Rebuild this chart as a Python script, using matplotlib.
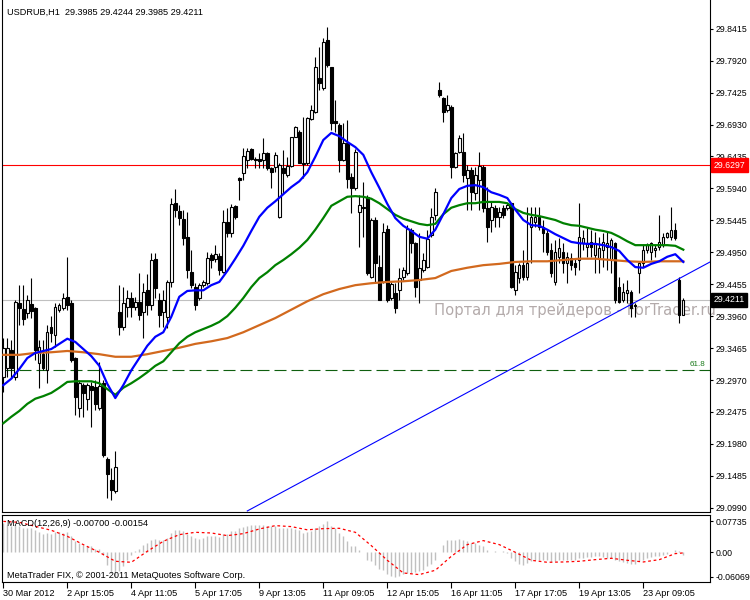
import matplotlib.pyplot as plt
import numpy as np

plt.rcParams['font.family'] = ['Liberation Sans', 'DejaVu Sans']
plt.rcParams['font.size'] = 6.6

symbol = 'USDRUB,H1'

# hourly candles, oldest first
opens = [
    29.302, 29.316, 29.343, 29.302, 29.416, 29.407, 29.401, 29.415, 29.409, 29.323,
    29.337, 29.312, 29.379, 29.367, 29.406, 29.409, 29.426, 29.416, 29.331, 29.254,
    29.289, 29.268, 29.288, 29.286, 29.254, 29.292, 29.175, 29.142, 29.125, 29.402,
    29.379, 29.410, 29.424, 29.410, 29.418, 29.402, 29.436, 29.413, 29.485, 29.421,
    29.402, 29.395, 29.449, 29.571, 29.559, 29.547, 29.519, 29.464, 29.441, 29.424,
    29.444, 29.447, 29.491, 29.485, 29.489, 29.464, 29.542, 29.525, 29.567, 29.610,
    29.618, 29.638, 29.655, 29.640, 29.640, 29.638, 29.649, 29.626, 29.627, 29.550,
    29.626, 29.615, 29.629, 29.674, 29.681, 29.633, 29.633, 29.702, 29.712, 29.765,
    29.750, 29.824, 29.782, 29.698, 29.692, 29.638, 29.664, 29.612, 29.595, 29.557,
    29.565, 29.581, 29.457, 29.545, 29.472, 29.449, 29.531, 29.424, 29.432, 29.436,
    29.457, 29.463, 29.530, 29.509, 29.452, 29.468, 29.472, 29.522, 29.553, 29.746,
    29.734, 29.716, 29.720, 29.627, 29.650, 29.650, 29.610, 29.622, 29.587, 29.607,
    29.627, 29.564, 29.545, 29.564, 29.550, 29.564, 29.564, 29.571, 29.436, 29.455,
    29.475, 29.457, 29.534, 29.542, 29.550, 29.534, 29.525, 29.499, 29.449, 29.488,
    29.495, 29.478, 29.486, 29.478, 29.483, 29.509, 29.503, 29.511, 29.491, 29.486,
    29.499, 29.503, 29.483, 29.509, 29.441, 29.421, 29.432, 29.433, 29.413, 29.463,
    29.478, 29.499, 29.495, 29.499, 29.503, 29.506, 29.519, 29.519, 29.530, 29.452,
    29.3985]
highs = [
    29.362, 29.362, 29.359, 29.421, 29.444, 29.444, 29.429, 29.455, 29.410, 29.359,
    29.359, 29.382, 29.396, 29.416, 29.416, 29.432, 29.488, 29.421, 29.333, 29.297,
    29.292, 29.292, 29.294, 29.297, 29.325, 29.297, 29.178, 29.161, 29.187, 29.444,
    29.441, 29.436, 29.433, 29.426, 29.463, 29.447, 29.461, 29.494, 29.494, 29.432,
    29.436, 29.452, 29.579, 29.593, 29.568, 29.561, 29.557, 29.499, 29.447, 29.447,
    29.452, 29.495, 29.494, 29.506, 29.494, 29.561, 29.564, 29.570, 29.568, 29.612,
    29.657, 29.657, 29.657, 29.643, 29.649, 29.672, 29.650, 29.627, 29.650, 29.633,
    29.653, 29.643, 29.674, 29.691, 29.684, 29.705, 29.705, 29.723, 29.798, 29.813,
    29.827, 29.844, 29.782, 29.731, 29.695, 29.695, 29.700, 29.618, 29.655, 29.584,
    29.604, 29.584, 29.548, 29.550, 29.491, 29.540, 29.537, 29.449, 29.447, 29.471,
    29.472, 29.537, 29.533, 29.511, 29.525, 29.494, 29.530, 29.564, 29.595, 29.759,
    29.736, 29.739, 29.723, 29.650, 29.677, 29.680, 29.630, 29.627, 29.627, 29.650,
    29.630, 29.596, 29.573, 29.568, 29.565, 29.568, 29.571, 29.571, 29.475, 29.478,
    29.499, 29.565, 29.565, 29.565, 29.565, 29.545, 29.530, 29.509, 29.514, 29.517,
    29.509, 29.495, 29.494, 29.486, 29.571, 29.530, 29.533, 29.530, 29.526, 29.519,
    29.525, 29.526, 29.517, 29.511, 29.457, 29.447, 29.452, 29.436, 29.416, 29.480,
    29.506, 29.509, 29.511, 29.506, 29.553, 29.525, 29.526, 29.565, 29.540, 29.457,
    29.4244]
lows = [
    29.278, 29.302, 29.300, 29.297, 29.382, 29.382, 29.393, 29.393, 29.328, 29.285,
    29.312, 29.292, 29.356, 29.348, 29.402, 29.406, 29.406, 29.325, 29.243, 29.240,
    29.240, 29.251, 29.224, 29.251, 29.251, 29.178, 29.114, 29.111, 29.122, 29.367,
    29.375, 29.395, 29.395, 29.406, 29.390, 29.362, 29.398, 29.406, 29.424, 29.379,
    29.379, 29.378, 29.441, 29.550, 29.537, 29.506, 29.455, 29.440, 29.406, 29.421,
    29.441, 29.444, 29.471, 29.480, 29.460, 29.463, 29.519, 29.519, 29.547, 29.576,
    29.607, 29.626, 29.638, 29.626, 29.626, 29.626, 29.622, 29.595, 29.619, 29.548,
    29.587, 29.612, 29.627, 29.674, 29.633, 29.610, 29.630, 29.700, 29.711, 29.746,
    29.746, 29.782, 29.684, 29.681, 29.619, 29.636, 29.595, 29.556, 29.591, 29.503,
    29.519, 29.460, 29.455, 29.447, 29.421, 29.447, 29.418, 29.421, 29.401, 29.421,
    29.452, 29.460, 29.494, 29.426, 29.416, 29.464, 29.471, 29.519, 29.545, 29.736,
    29.697, 29.712, 29.610, 29.626, 29.649, 29.604, 29.561, 29.561, 29.576, 29.561,
    29.557, 29.511, 29.526, 29.534, 29.534, 29.548, 29.561, 29.440, 29.429, 29.447,
    29.452, 29.452, 29.478, 29.534, 29.530, 29.495, 29.491, 29.457, 29.444, 29.478,
    29.463, 29.447, 29.468, 29.460, 29.468, 29.499, 29.488, 29.488, 29.463, 29.463,
    29.472, 29.468, 29.463, 29.416, 29.416, 29.418, 29.416, 29.395, 29.395, 29.432,
    29.472, 29.494, 29.483, 29.488, 29.499, 29.503, 29.517, 29.514, 29.514, 29.385,
    29.3985]
closes = [
    29.347, 29.347, 29.316, 29.418, 29.409, 29.392, 29.421, 29.404, 29.343, 29.348,
    29.316, 29.371, 29.370, 29.410, 29.413, 29.424, 29.413, 29.328, 29.271, 29.292,
    29.277, 29.289, 29.282, 29.260, 29.288, 29.181, 29.151, 29.127, 29.162, 29.379,
    29.416, 29.424, 29.410, 29.418, 29.398, 29.433, 29.413, 29.483, 29.440, 29.398,
    29.421, 29.449, 29.570, 29.561, 29.548, 29.517, 29.468, 29.444, 29.413, 29.444,
    29.449, 29.486, 29.483, 29.492, 29.468, 29.542, 29.525, 29.565, 29.550, 29.607,
    29.644, 29.652, 29.640, 29.638, 29.636, 29.649, 29.626, 29.619, 29.646, 29.630,
    29.618, 29.629, 29.674, 29.689, 29.633, 29.632, 29.703, 29.716, 29.782, 29.757,
    29.821, 29.785, 29.695, 29.695, 29.638, 29.664, 29.609, 29.595, 29.650, 29.568,
    29.564, 29.463, 29.545, 29.478, 29.421, 29.526, 29.421, 29.446, 29.409, 29.455,
    29.468, 29.531, 29.509, 29.441, 29.471, 29.483, 29.516, 29.550, 29.588, 29.739,
    29.712, 29.723, 29.627, 29.649, 29.672, 29.615, 29.622, 29.588, 29.615, 29.629,
    29.564, 29.534, 29.565, 29.550, 29.557, 29.553, 29.568, 29.441, 29.464, 29.475,
    29.457, 29.478, 29.550, 29.550, 29.534, 29.525, 29.495, 29.463, 29.495, 29.502,
    29.478, 29.488, 29.475, 29.472, 29.519, 29.517, 29.509, 29.503, 29.509, 29.502,
    29.511, 29.509, 29.514, 29.421, 29.418, 29.433, 29.436, 29.409, 29.412, 29.478,
    29.499, 29.506, 29.509, 29.502, 29.511, 29.519, 29.525, 29.530, 29.517, 29.398,
    29.4211]

# moving averages: fast and middle read every 2nd bar, slow every 4th bar
fine_bars = list(range(0, 171, 2))
ma_fast = [
    29.289, 29.299, 29.314, 29.331, 29.339, 29.342, 29.345, 29.353, 29.361, 29.356,
    29.345, 29.334, 29.319, 29.291, 29.269, 29.289, 29.312, 29.331, 29.350, 29.364,
    29.371, 29.395, 29.426, 29.435, 29.436, 29.436, 29.444, 29.449, 29.466, 29.485,
    29.505, 29.528, 29.550, 29.564, 29.574, 29.585, 29.596, 29.605, 29.619, 29.643,
    29.669, 29.680, 29.675, 29.666, 29.658, 29.646, 29.619, 29.595, 29.570, 29.548,
    29.536, 29.528, 29.519, 29.516, 29.530, 29.554, 29.579, 29.593, 29.598, 29.599,
    29.596, 29.588, 29.584, 29.579, 29.561, 29.545, 29.537, 29.536, 29.530, 29.523,
    29.517, 29.511, 29.509, 29.508, 29.508, 29.506, 29.503, 29.497, 29.483, 29.472,
    29.471, 29.477, 29.481, 29.488, 29.492, 29.480]
ma_mid = [
    29.230, 29.240, 29.249, 29.260, 29.268, 29.272, 29.277, 29.285, 29.294, 29.295,
    29.295, 29.295, 29.292, 29.283, 29.274, 29.285, 29.292, 29.300, 29.309, 29.319,
    29.326, 29.340, 29.354, 29.364, 29.371, 29.376, 29.381, 29.387, 29.396, 29.409,
    29.424, 29.441, 29.455, 29.464, 29.475, 29.483, 29.492, 29.502, 29.514, 29.530,
    29.548, 29.567, 29.574, 29.581, 29.582, 29.581, 29.578, 29.571, 29.562, 29.553,
    29.547, 29.543, 29.539, 29.537, 29.539, 29.554, 29.564, 29.568, 29.571, 29.571,
    29.573, 29.573, 29.573, 29.571, 29.562, 29.556, 29.553, 29.551, 29.548, 29.545,
    29.540, 29.537, 29.536, 29.533, 29.530, 29.528, 29.525, 29.519, 29.512, 29.506,
    29.506, 29.506, 29.506, 29.506, 29.505, 29.499]
coarse_bars = list(range(0, 169, 4)) + [170]
ma_slow = [
    29.336, 29.336, 29.339, 29.340, 29.342, 29.340, 29.337, 29.333, 29.333, 29.337,
    29.342, 29.347, 29.353, 29.357, 29.362, 29.371, 29.382, 29.393, 29.406, 29.419,
    29.430, 29.438, 29.444, 29.447, 29.449, 29.450, 29.452, 29.455, 29.466, 29.471,
    29.475, 29.477, 29.480, 29.481, 29.481, 29.483, 29.485, 29.485, 29.483, 29.481,
    29.480, 29.481, 29.481, 29.481]

macd_main = [
    0.0730, 0.0689, 0.0647, 0.0689, 0.0647, 0.0606, 0.0606, 0.0606, 0.0564, 0.0498,
    0.0465, 0.0481, 0.0465, 0.0498, 0.0498, 0.0481, 0.0498, 0.0398, 0.0274, 0.0232,
    0.0191, 0.0149, 0.0149, 0.0083, 0.0083, -0.0058, -0.0307, -0.0515, -0.0607, -0.0473,
    -0.0349, -0.0183, -0.0058, 0.0025, 0.0083, 0.0191, 0.0232, 0.0315, 0.0332, 0.0299,
    0.0315, 0.0357, 0.0481, 0.0548, 0.0548, 0.0523, 0.0465, 0.0415, 0.0357, 0.0332,
    0.0357, 0.0415, 0.0415, 0.0398, 0.0382, 0.0465, 0.0465, 0.0523, 0.0523, 0.0606,
    0.0631, 0.0664, 0.0689, 0.0689, 0.0689, 0.0689, 0.0664, 0.0647, 0.0647, 0.0606,
    0.0606, 0.0606, 0.0606, 0.0581, 0.0564, 0.0481, 0.0498, 0.0523, 0.0606, 0.0664,
    0.0714, 0.0774, 0.0664, 0.0606, 0.0481, 0.0398, 0.0274, 0.0166, 0.0149, 0.0050,
    0.0005, -0.0183, -0.0224, -0.0307, -0.0415, -0.0432, -0.0531, -0.0598, -0.0607, -0.0598,
    -0.0531, -0.0515, -0.0515, -0.0498, -0.0473, -0.0432, -0.0349, -0.0282, -0.0183, 0.0004,
    0.0191, 0.0299, 0.0299, 0.0315, 0.0332, 0.0299, 0.0274, 0.0232, 0.0232, 0.0191,
    0.0149, 0.0066, 0.0017, 0.0025, 0.0003, 0.0033, -0.0017, -0.0141, -0.0224, -0.0282,
    -0.0307, -0.0266, -0.0224, -0.0183, -0.0183, -0.0183, -0.0199, -0.0249, -0.0224, -0.0199,
    -0.0199, -0.0183, -0.0183, -0.0199, -0.0141, -0.0141, -0.0116, -0.0116, -0.0100, -0.0100,
    -0.0116, -0.0141, -0.0141, -0.0183, -0.0224, -0.0249, -0.0266, -0.0282, -0.0282, -0.0224,
    -0.0183, -0.0141, -0.0116, -0.0100, -0.0083, -0.0058, -0.0033, 0.0003, 0.0050, 0.0025,
    -0.00700]
macd_signal = [
    0.0770, 0.0747, 0.0647, 0.0548, 0.0398, 0.0191, 0.0000, -0.0224, -0.0249, 0.0025,
    0.0274, 0.0440, 0.0498, 0.0481, 0.0415, 0.0465, 0.0581, 0.0664, 0.0640, 0.0560,
    0.0589, 0.0598, 0.0498, 0.0166, -0.0199, -0.0515, -0.0556, -0.0448, -0.0100, 0.0191,
    0.0291, 0.0191, 0.0000, -0.0199, -0.0249, -0.0241, -0.0224, -0.0183, -0.0149, -0.0199,
    -0.0241, -0.0183, -0.0033, -0.00154]

price_ticks = [29.8415, 29.7920, 29.7425, 29.6930, 29.6435, 29.5940, 29.5445, 29.4950,
               29.4455, 29.3960, 29.3465, 29.2970, 29.2475, 29.1980, 29.1485, 29.0990]
macd_ticks = [0.07735, 0.0, -0.06069]
macd_tick_labels = ['0.07735', '0.00', '-0.06069']
time_bars = list(range(0, 161, 16))
time_labels = ['30 Mar 2012', '2 Apr 15:05', '4 Apr 11:05', '5 Apr 17:05', '9 Apr 13:05',
               '11 Apr 09:05', '12 Apr 15:05', '16 Apr 11:05', '17 Apr 17:05',
               '19 Apr 13:05', '23 Apr 09:05']

alert_level = 29.6297
fibo_level = 29.3125
trend_bars = [61.0, 176.7]
trend_prices = [29.094, 29.480]

W, H = 750, 600


def px_rect(x0, y0, x1, y1):
    return [x0 / W, 1 - y1 / H, (x1 - x0) / W, (y1 - y0) / H]


fig = plt.figure(figsize=(7.5, 6), dpi=100)
ax = fig.add_axes(px_rect(2, 0, 710, 512))
mx = fig.add_axes(px_rect(2, 515, 710, 582))

o, h, l, c = map(np.array, (opens, highs, lows, closes))
x = np.arange(len(c))
xlim = (-0.325, 176.675)

# price pane
ax.axhline(c[-1], color='#c0c0c0', lw=0.8, zorder=1)
ax.axhline(alert_level, color='red', lw=0.8, zorder=1)
ax.axhline(fibo_level, color='#0f5f0f', lw=0.8, dashes=(10.8, 4.5), zorder=1)
ax.text(171.7, fibo_level + 0.003, '61.8', color='#1a7a1a', fontsize=5.8,
        ha='left', va='bottom', zorder=2)
ax.text(107.6, 29.404, 'Портал для трейдеров - ForTrader.ru', color='#b3aaaa',
        fontsize=10.6, family='DejaVu Sans', ha='left', va='center',
        zorder=1.5, clip_on=False)

ax.vlines(x, l, h, color='black', lw=0.8, zorder=3)
up = c >= o
ax.bar(x[up], (c - o)[up], bottom=o[up], width=0.6, facecolor='white',
       edgecolor='black', lw=0.8, zorder=4)
ax.bar(x[~up], (o - c)[~up], bottom=c[~up], width=0.6, facecolor='black',
       edgecolor='black', lw=0.8, zorder=4)

ax.plot(coarse_bars, ma_slow, color='#d2691e', lw=1.6, zorder=5)
ax.plot(fine_bars, ma_mid, color='#008000', lw=1.6, zorder=5)
ax.plot(fine_bars, ma_fast, color='#0000ff', lw=1.6, zorder=5)
ax.plot(trend_bars, trend_prices, color='#0000ff', lw=0.8, zorder=5)

ax.set_xlim(*xlim)
ax.set_ylim(29.886 - 512 * 0.00155, 29.886)
ax.set_xticks([])
ax.yaxis.tick_right()
ax.set_yticks(price_ticks)
ax.set_yticklabels([f'{v:.4f}' for v in price_ticks])
ax.tick_params(axis='y', direction='out', length=2.5, width=0.8, pad=1.5, labelsize=6.3)

ytr = ax.get_yaxis_transform()
ax.text(1.005, alert_level, f'{alert_level:.4f}', transform=ytr, color='white',
        ha='left', va='center', fontsize=6.3, zorder=10, clip_on=False,
        bbox=dict(boxstyle='square,pad=0.3', fc='red', ec='red'))
ax.text(1.005, c[-1], f'{c[-1]:.4f}', transform=ytr, color='white',
        ha='left', va='center', fontsize=6.3, zorder=10, clip_on=False,
        bbox=dict(boxstyle='square,pad=0.3', fc='black', ec='black'))

# macd pane
mx.vlines(x, 0, macd_main, color='#c0c0c0', lw=1.0, zorder=2)
mx.plot(coarse_bars, macd_signal, color='red', lw=0.9, dashes=(2.2, 2.2), zorder=3)
mx.set_xlim(*xlim)
mx.set_ylim(-0.0740, 0.0929)
mx.yaxis.tick_right()
mx.set_yticks(macd_ticks)
mx.set_yticklabels(macd_tick_labels)
mx.tick_params(axis='y', direction='out', length=2.5, width=0.8, pad=1.5, labelsize=6.3)
mx.set_xticks(time_bars)
mx.set_xticklabels(time_labels, ha='left')
mx.tick_params(axis='x', direction='out', length=4, width=0.8, pad=1, labelsize=6.6)

for a in (ax, mx):
    a.spines['top'].set_visible(a is mx)
    for s in a.spines.values():
        s.set_linewidth(0.8)

fig.text(7 / W, 1 - 12 / H,
         f'{symbol}  {o[-1]:.4f} {h[-1]:.4f} {l[-1]:.4f} {c[-1]:.4f}',
         ha='left', va='center', fontsize=6.6)
fig.text(7 / W, 1 - 524 / H,
         f'MACD(12,26,9) {macd_main[-1]:.5f} {macd_signal[-1]:.5f}',
         ha='left', va='center', fontsize=6.6)
fig.text(7 / W, 1 - 575 / H, 'MetaTrader FIX, © 2001-2011 MetaQuotes Software Corp.',
         ha='left', va='center', fontsize=6.6)

fig.savefig('out.png', dpi=100)
